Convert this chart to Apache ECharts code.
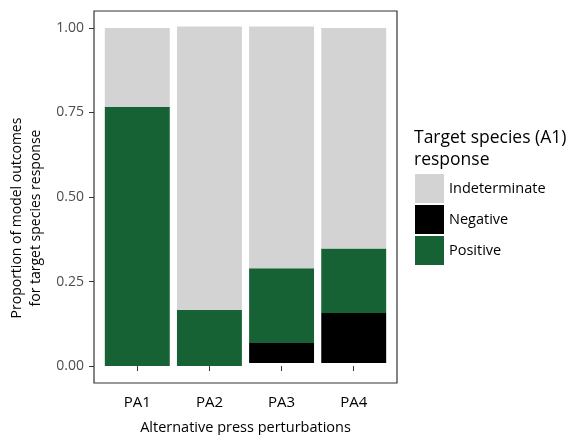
<!DOCTYPE html>
<html>
<head>
<meta charset="utf-8">
<script src="https://cdn.jsdelivr.net/npm/echarts@6/dist/echarts.min.js"></script>
<style>html,body{margin:0;padding:0;background:#fff}#c{width:569px;height:435px}</style>
</head>
<body>
<div id="c"></div>
<script>
var categories = ['PA1', 'PA2', 'PA3', 'PA4'];
var yTicks = [0, 0.25, 0.5, 0.75, 1];
var baseOffset = [0, 0, 0.009, 0.009];
var negative = [0, 0, 0.059, 0.148];
var positive = [0.766, 0.166, 0.221, 0.191];
var indeterminate = [0.234, 0.838, 0.715, 0.652];

var FONT = '"Open Sans", "Noto Sans", sans-serif';
// panel geometry (ggplot-like: discrete axis expanded by 0.6 units each side)
var PL = 94, PT = 11, PW = 303, PH = 372;
var unit = PW / 4.2;
var inset = 0.1 * unit;

function barSeries(name, arr, color) {
  return {
    name: name, type: 'bar', stack: 'all', barWidth: '90%',
    xAxisIndex: 0, yAxisIndex: 0,
    data: arr, itemStyle: { color: color }, silent: true
  };
}
var chart = echarts.init(document.getElementById('c'), null, { renderer: 'canvas' });
chart.setOption({
  animation: false,
  backgroundColor: '#fff',
  textStyle: { fontFamily: FONT },
  title: {
    text: 'Target species (A1)\nresponse',
    left: 409, top: 122,
    textStyle: { fontFamily: FONT, fontSize: 17.5, fontWeight: 'normal', color: '#000', lineHeight: 22 }
  },
  legend: {
    data: ['Indeterminate', 'Negative', 'Positive'],
    orient: 'vertical', left: 410, top: 169,
    itemWidth: 29, itemHeight: 29, itemGap: 2,
    icon: 'rect',
    textStyle: { fontFamily: FONT, fontSize: 14.5, color: '#000' },
    selectedMode: false
  },
  grid: [
    { left: PL + inset, top: PT, width: PW - 2 * inset, height: PH, show: false, outerBoundsMode: 'none', containLabel: false },
    { left: PL, top: PT, width: PW, height: PH, show: true, borderColor: '#333', borderWidth: 1.2, backgroundColor: 'rgba(0,0,0,0)', outerBoundsMode: 'none', containLabel: false }
  ],
  xAxis: [{
    type: 'category', data: categories, gridIndex: 0,
    name: 'Alternative press perturbations', nameLocation: 'middle', nameGap: 37,
    nameTextStyle: { fontFamily: FONT, fontSize: 14.5, color: '#000' },
    axisLine: { show: false },
    splitLine: { show: false },
    axisTick: { show: true, length: 5, alignWithLabel: true, lineStyle: { color: '#333' } },
    axisLabel: { margin: 12, fontFamily: FONT, fontSize: 15, color: '#000' }
  }, {
    type: 'value', gridIndex: 1, show: false
  }],
  yAxis: [{
    type: 'value', min: -0.05, max: 1.05, gridIndex: 0, show: false
  }, {
    type: 'value', min: -0.05, max: 1.05, gridIndex: 1,
    name: 'Proportion of model outcomes\nfor target species response',
    nameLocation: 'middle', nameRotate: 90, nameGap: 47,
    nameTextStyle: { fontFamily: FONT, fontSize: 14, color: '#000', lineHeight: 19, padding: [0, 42, 0, 0] },
    axisLine: { show: false },
    splitLine: { show: false },
    axisTick: { show: true, length: 5, lineStyle: { color: '#333' }, customValues: yTicks },
    axisLabel: {
      customValues: yTicks, margin: 10,
      fontFamily: FONT, fontSize: 14, color: '#4d4d4d',
      formatter: function (v) { return v.toFixed(2); }
    }
  }],
  series: [
    barSeries('base', baseOffset, 'rgba(0,0,0,0)'),
    barSeries('Negative', negative, '#000000'),
    barSeries('Positive', positive, '#176234'),
    barSeries('Indeterminate', indeterminate, '#d3d3d3')
  ]
});
</script>
</body>
</html>
